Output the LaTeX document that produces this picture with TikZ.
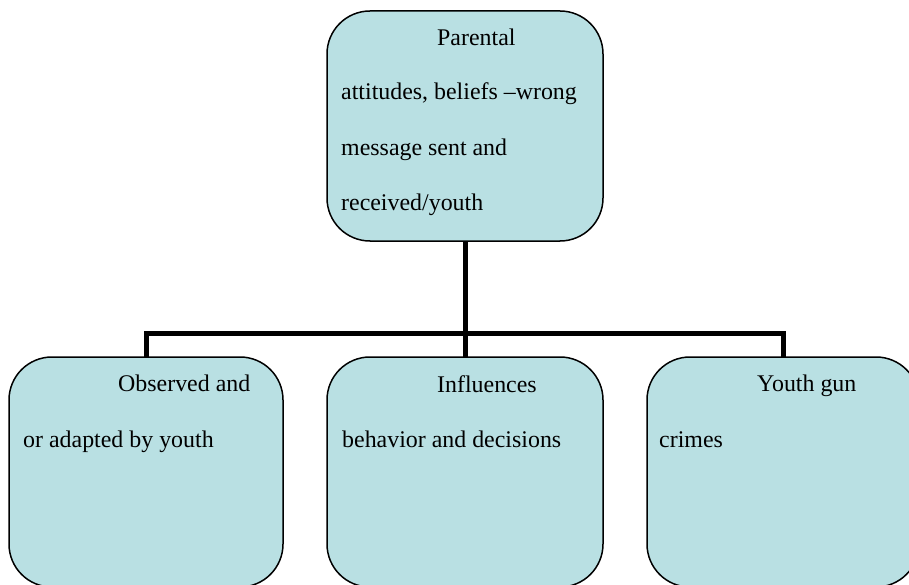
\documentclass[tikz,border=0pt]{standalone}
\usepackage{fontspec}
\setmainfont{Liberation Serif}
\definecolor{boxfill}{RGB}{185,224,227}
\tikzset{
  box/.style={draw=black, line width=1.5pt, fill=boxfill, rounded corners=43pt, minimum width=276pt, minimum height=230pt, inner sep=0pt, outer sep=0pt},
  conn/.style={draw=black, line width=5pt},
  txt/.style={anchor=base west, inner sep=0pt, font=\fontsize{23.9}{28}\selectfont}
}
\begin{document}
\begin{tikzpicture}[x=1pt,y=-1pt]
\useasboundingbox (0,0) rectangle (909,585);
\clip (0,0) rectangle (909,585);
\node[box] (p) at (465,126) {};
\node[box, minimum width=274pt] (b1) at (146,472) {};
\node[box] (b2) at (465,472) {};
\node[box, minimum width=272pt] (b3) at (783,472) {};
\coordinate (bar) at (465,333);
\draw[conn] (p.south) -- (b2.north);
\draw[conn] (b1.north) -- (b1.north |- bar) -| (b3.north);
% texts
\node[txt] (t1) at (437,46) {Parental};
\node[txt] (t2) at (341,100) {attitudes, beliefs –wrong};
\node[txt] (t3) at (341,156) {message sent and};
\node[txt] (t4) at (341,211) {received/youth};
\node[txt] (l1) at (118,391) {Observed and};
\node[txt] (l2) at (23,447) {or adapted by youth};
\node[txt] (m1) at (437,392) {Influences};
\node[txt] (m2) at (342,447) {behavior and decisions};
\node[txt] (r1) at (757,391) {Youth gun};
\node[txt] (r2) at (659,447) {crimes};
\end{tikzpicture}
\end{document}
